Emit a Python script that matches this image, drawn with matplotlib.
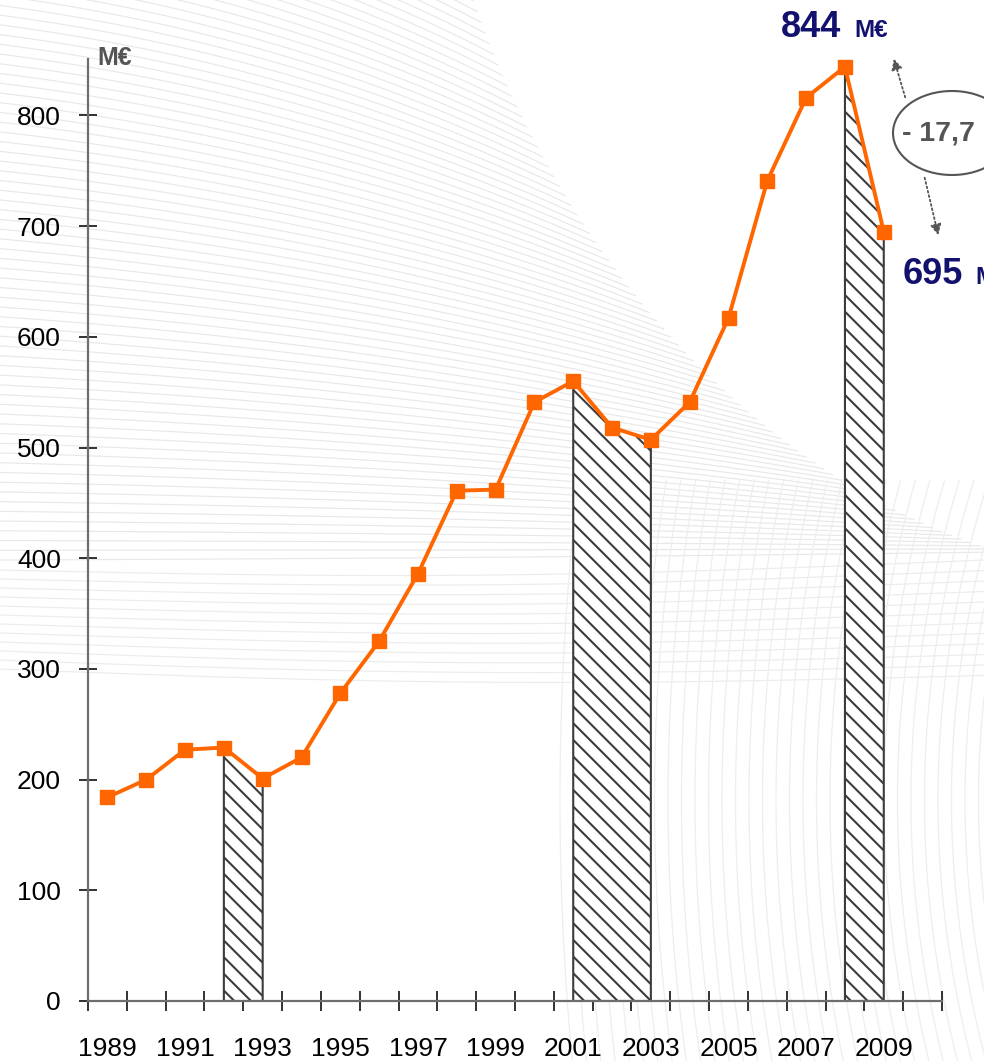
import numpy as np
import matplotlib
matplotlib.use("Agg")
import matplotlib.pyplot as plt
from matplotlib.patches import Ellipse, FancyArrowPatch

years = list(range(1989, 2010))
values = [184, 200, 227, 229, 201, 220, 278, 325, 386, 461, 462,
          541, 560, 518, 507, 541, 617, 741, 816, 844, 695]
hatch_periods = [(1992, 1993), (2001, 2003), (2008, 2009)]
label_years = list(range(1989, 2010, 2))
y_ticks = [0, 100, 200, 300, 400, 500, 600, 700, 800]

plt.rcParams['font.family'] = ['Liberation Sans', 'DejaVu Sans']
plt.rcParams['hatch.linewidth'] = 1.5
plt.rcParams['hatch.color'] = '#3c3c3c'

W, H = 984, 1061
fig = plt.figure(figsize=(W / 100, H / 100), dpi=100)

# ---- decorative background mesh (pixel coordinates) ----
bg = fig.add_axes([0, 0, 1, 1], zorder=-5)
bg.set_xlim(0, W)
bg.set_ylim(H, 0)
bg.axis('off')

def bez3(p0, p1, p2, p3, t):
    t = np.asarray(t)[:, None]
    return ((1 - t) ** 3) * p0 + 3 * ((1 - t) ** 2) * t * p1 + 3 * (1 - t) * t ** 2 * p2 + t ** 3 * p3

P0, P1, P2, P3 = (np.array(p, float) for p in [(470, -10), (560, 260), (760, 480), (1000, 552)])
n_lines = 75
ts = np.linspace(0, 1, n_lines)
env = bez3(P0, P1, P2, P3, ts)
ys0 = np.linspace(-160, 560, n_lines)
u = np.linspace(0, 1, 60)[:, None]
for (ex, ey), y0 in zip(env, ys0):
    s = np.array([0.0, y0])
    e = np.array([ex, ey])
    c = np.array([ex * 0.55, y0 + (ey - y0) * 0.25])
    pts = (1 - u) ** 2 * s + 2 * (1 - u) * u * c + u ** 2 * e
    bg.plot(pts[:, 0], pts[:, 1], color='#e8e8e8', lw=0.85, solid_capstyle='butt')
# lower band of nearly flat lines
for k in range(12):
    y0 = 570 + k * 9
    y1 = 560 + k * 10.5
    xs_ = np.linspace(0, W, 50)
    ys_ = y0 + (y1 - y0) * xs_ / W + 10 * np.sin(np.pi * xs_ / W)
    bg.plot(xs_, ys_, color='#ececec', lw=0.85)

# lower-right near-vertical arcs
yy = np.linspace(480, H, 80)
for k in range(34):
    x0 = 560 + k * 13.5
    xx = x0 + 0.00045 * (yy - 800) ** 2 * (0.4 + k / 40)
    bg.plot(xx, yy, color='#eeeeee', lw=0.9)

# ---- main chart ----
ax = fig.add_axes([88 / W, 60 / H, (942 - 88) / W, (1001 - 59) / H])
ax.patch.set_alpha(0)

x = np.arange(len(years))

for a, b in hatch_periods:
    i0, i1 = years.index(a), years.index(b)
    xs = x[i0:i1 + 1]
    ys = np.array(values[i0:i1 + 1])
    ax.fill_between(xs, 0, ys, facecolor='white', hatch='\\\\', edgecolor='#3c3c3c',
                    linewidth=1.5, zorder=2)

ax.plot(x, values, color='#ff6600', lw=2.8, marker='s', markersize=10.5,
        markerfacecolor='#ff6600', markeredgecolor='#ff6600', zorder=3, clip_on=False)

ax.set_xlim(-0.5, 21.5)
ax.set_ylim(0, 851)

for s in ['top', 'right']:
    ax.spines[s].set_visible(False)
for s in ['left', 'bottom']:
    ax.spines[s].set_color('#6e6e6e')
    ax.spines[s].set_linewidth(1.6)

ax.set_yticks(y_ticks)
ax.set_yticklabels([str(v) for v in y_ticks], fontsize=19)
ax.tick_params(axis='y', direction='inout', length=13, width=1.3, color='#222222', pad=13)

ax.set_xticks(np.arange(-0.5, 22, 1.0))
ax.set_xticklabels([])
ax.tick_params(axis='x', which='major', direction='inout', length=14, width=1.3, color='#222222')
ax.set_xticks([years.index(y) for y in label_years], minor=True)
ax.set_xticklabels([str(y) for y in label_years], minor=True, fontsize=19)
ax.tick_params(axis='x', which='minor', length=0, pad=26)

fig.text(97 / W, 1 - 58 / H, 'M€', fontsize=18, fontweight='bold', color='#555555',
         ha='left', va='center')

navy = '#12126e'
fig.text(781 / W, 1 - 37 / H, '844', fontsize=26, fontweight='bold', color=navy,
         ha='left', va='baseline')
fig.text(854 / W, 1 - 37 / H, 'M€', fontsize=17.5, fontweight='bold', color=navy,
         ha='left', va='baseline')
fig.text(903 / W, 1 - 284 / H, '695', fontsize=26, fontweight='bold', color=navy,
         ha='left', va='baseline')
fig.text(975 / W, 1 - 284 / H, 'M€', fontsize=17.5, fontweight='bold', color=navy,
         ha='left', va='baseline')

ell = Ellipse((952 / W, 1 - 133 / H), 118 / W, 84 / H, transform=fig.transFigure,
              facecolor='white', edgecolor='#555555', lw=1.5)
fig.patches.append(ell)
fig.text(902 / W, 1 - 133 / H, '- 17,7', fontsize=20.5, fontweight='bold',
         color='#555555', ha='left', va='center')

fig.add_artist(FancyArrowPatch(
    (906 / W, 1 - 100 / H), (893 / W, 1 - 56 / H), transform=fig.transFigure,
    arrowstyle='-|>', mutation_scale=16, linestyle=(0, (1, 1.5)), color='#555555', lw=1.3))
fig.add_artist(FancyArrowPatch(
    (924 / W, 1 - 175 / H), (939 / W, 1 - 238 / H), transform=fig.transFigure,
    arrowstyle='-|>', mutation_scale=16, linestyle=(0, (1, 1.5)), color='#555555', lw=1.3))

fig.savefig('out.png', dpi=100)
